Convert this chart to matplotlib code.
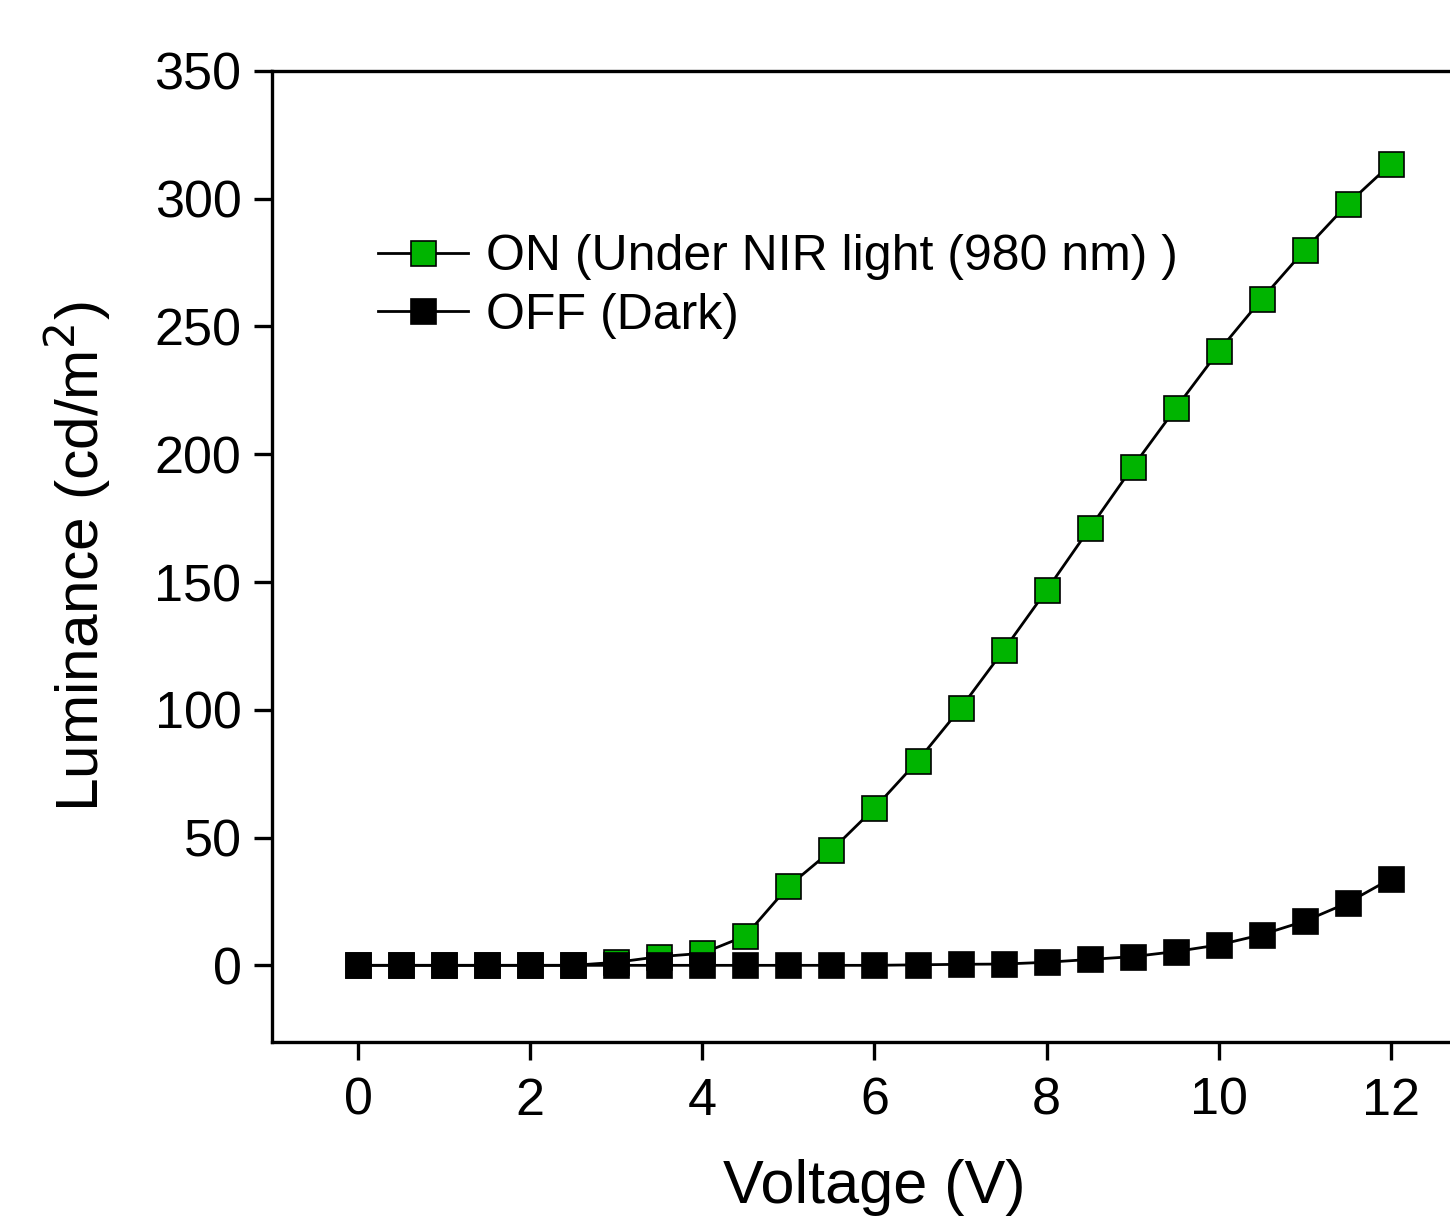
import numpy as np
import matplotlib.pyplot as plt

plt.rcParams['font.family'] = ['Liberation Sans', 'DejaVu Sans']

# voltage steps (V)
voltage = np.arange(0, 12.5, 0.5)

# luminance (cd/m2)
lum_on = [0, 0, 0, 0, 0, 0, 1.2, 3.4, 4.7, 11.5, 30.9, 45, 61.5, 79.9, 100.6,
          123.3, 146.8, 171, 195, 218, 240.4, 260.8, 280, 298, 313.6]
lum_off = [0, 0, 0, 0, 0, 0, 0, 0, 0, 0, 0, 0, 0, 0.2, 0.4,
           0.5, 1.2, 2.3, 3.4, 5.4, 8.0, 12.0, 17.3, 24.5, 33.9]

xticks = [0, 2, 4, 6, 8, 10, 12]
yticks = [0, 50, 100, 150, 200, 250, 300, 350]

fig = plt.figure(figsize=(14.5, 12.17), dpi=100)
ax = fig.add_axes([0.1876, 0.1438, 0.831, 0.7979])

ax.plot(voltage, lum_on, '-s', color='black', lw=2, ms=18, mfc='#00b400',
        mec='black', mew=1.2, label='ON (Under NIR light (980 nm) )')
ax.plot(voltage, lum_off, '-s', color='black', lw=2, ms=18, mfc='black',
        mec='black', mew=1.2, label='OFF (Dark)')

ax.set_xlim(-1, 13)
ax.set_ylim(-30, 350)
ax.set_xticks(xticks)
ax.set_yticks(yticks)

for s in ax.spines.values():
    s.set_linewidth(2.4)
ax.tick_params(direction='out', length=13, width=2.4, labelsize=37.5,
               top=False, right=False)
ax.tick_params(axis='x', pad=12)
ax.tick_params(axis='y', pad=9)

ax.set_xlabel('Voltage (V)', fontsize=44, labelpad=24)
ax.set_ylabel('Luminance (cd/m$^2$)', fontsize=43.5, labelpad=30)

ax.legend(loc='upper left', bbox_to_anchor=(0.247, 0.824), bbox_transform=fig.transFigure,
          frameon=False, fontsize=36, handlelength=1.8, handletextpad=0.35,
          labelspacing=0.25, borderaxespad=0)

fig.savefig('out.png', dpi=100)
